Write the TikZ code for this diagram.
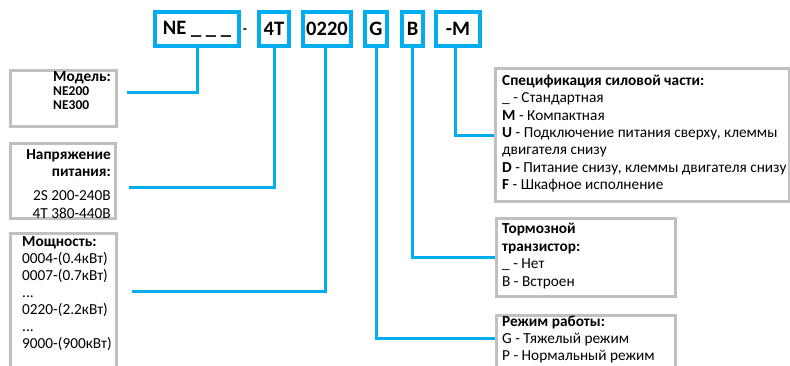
\documentclass[tikz,border=0pt]{standalone}
\usepackage{fontspec}
\setmainfont{Carlito}
\usepackage{xcolor}
\definecolor{codeblue}{RGB}{0,174,239}
\definecolor{boxgray}{RGB}{192,192,192}

\begin{document}
\begin{tikzpicture}[x=1pt,y=-1pt,
        codebox/.style={draw=codeblue,line width=3.5pt,minimum height=34pt,inner sep=0pt,
            font=\fontsize{20.5}{24}\selectfont\bfseries},
        descbox/.style={draw=boxgray,line width=3pt,anchor=north west,inner sep=0pt},
        desc/.style={anchor=north west,inner sep=0pt,align=left,
            font=\fontsize{15.3}{17.3}\selectfont},
        link/.style={draw=codeblue,line width=3pt}]
        \useasboundingbox (0,0) rectangle (790,365);
        \clip (0,0) rectangle (790,365);
        % Code boxes
        \node[codebox,minimum width=84pt] (ne) at (197,29) {NE \_ \_ \_};
        \node[inner sep=0pt,font=\fontsize{14}{16}\selectfont\bfseries] (sep) at (245,31) {-};
        \node[codebox,minimum width=30pt] (tv) at (274,29) {4T};
        \node[codebox,minimum width=48pt] (kw) at (327,29) {0220};
        \node[codebox,minimum width=22pt] (gm) at (376,29) {G};
        \node[codebox,minimum width=21pt] (bt) at (412.5,29) {B};
        \node[codebox,minimum width=44pt] (pm) at (458,29) {-M};
        % Left boxes
        \node[descbox,minimum width=106pt,minimum height=56pt] (modelbox) at (9,69) {};
        \node[desc,font=\fontsize{15.3}{14.5}\selectfont\bfseries] (model) at (53,71)
            {Модель:\\\fontsize{13.5}{14.5}\selectfont NE200\\[-1pt]\fontsize{13.5}{14.5}\selectfont NE300};
        \node[descbox,minimum width=105pt,minimum height=75pt] (voltbox) at (9,142) {};
        \node[desc,anchor=north east,align=right] (volt) at (111,149)
            {\textbf{Напряжение}\\\textbf{питания:}\\[7pt]2S 200-240В\\4T 380-440В};
        \node[descbox,minimum width=106pt,minimum height=150pt] (powbox) at (9,232) {};
        \node[desc,font=\fontsize{15.3}{17.1}\selectfont] (pow) at (22,236)
            {\textbf{Мощность:}\\0004-(0.4кВт)\\0007-(0.7кВт)\\...\\0220-(2.2кВт)\\...\\9000-(900кВт)};
        % Right boxes
        \node[descbox,minimum width=294pt,minimum height=133pt] (specbox) at (494,67) {};
        \node[desc] (spec) at (502,75)
            {\textbf{Спецификация силовой части:}\\\_ - Стандартная\\\textbf{M} - Компактная\\
             \textbf{U} - Подключение питания сверху, клеммы\\двигателя снизу\\
             \textbf{D} - Питание снизу, клеммы двигателя снизу\\\textbf{F} - Шкафное исполнение};
        \node[descbox,minimum width=179pt,minimum height=78pt] (brakebox) at (495,217) {};
        \node[desc,font=\fontsize{15.3}{17.6}\selectfont] (brake) at (502,223)
            {\textbf{Тормозной}\\\textbf{транзистор:}\\\_ - Нет\\В - Встроен};
        \node[descbox,minimum width=179pt,minimum height=70pt] (modebox) at (495,314) {};
        \node[desc,font=\fontsize{15.3}{17}\selectfont] (mode) at (502,316)
            {\textbf{Режим работы:}\\G - Тяжелый режим\\P - Нормальный режим};
        % Connectors
        \coordinate (modelend) at (127,92);
        \coordinate (voltend) at (129,187);
        \coordinate (powend) at (132,291);
        \draw[link] (ne.south) |- (modelend);
        \draw[link] (tv.south) |- (voltend);
        \draw[link] ([xshift=-2pt]kw.south) |- (powend);
        \draw[link] (gm.south) |- ([yshift=12pt]modebox.west);
        \draw[link] (bt.south) |- (brakebox.west);
        \draw[link] ([xshift=-3pt]pm.south) |- (specbox.west);
    \end{tikzpicture}
\end{document}
